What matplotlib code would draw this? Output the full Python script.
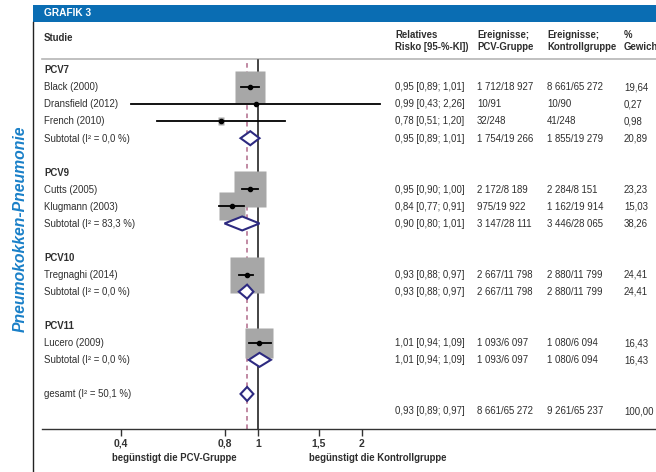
import matplotlib
matplotlib.use("Agg")
import matplotlib.pyplot as plt
import numpy as np
from matplotlib.path import Path
from matplotlib.patches import Polygon, Rectangle

plt.rcParams['font.family'] = ['Liberation Sans Narrow', 'Liberation Sans', 'DejaVu Sans']

# ---------------- data ----------------
groups = ["PCV7", "PCV9", "PCV10", "PCV11"]
group_i2 = ["0,0", "83,3", "0,0", "0,0"]
study_names = [["Black (2000)", "Dransfield (2012)", "French (2010)"],
               ["Cutts (2005)", "Klugmann (2003)"],
               ["Tregnaghi (2014)"],
               ["Lucero (2009)"]]
study_rr = [[0.95, 0.99, 0.78], [0.95, 0.84], [0.93], [1.01]]
study_lo = [[0.89, 0.43, 0.51], [0.90, 0.77], [0.88], [0.94]]
study_hi = [[1.01, 2.26, 1.20], [1.00, 0.91], [0.97], [1.09]]
study_weight = [[19.64, 0.27, 0.98], [23.23, 15.03], [24.41], [16.43]]
study_ev_pcv = [["1 712/18 927", "10/91", "32/248"], ["2 172/8 189", "975/19 922"],
                ["2 667/11 798"], ["1 093/6 097"]]
study_ev_ctl = [["8 661/65 272", "10/90", "41/248"], ["2 284/8 151", "1 162/19 914"],
                ["2 880/11 799"], ["1 080/6 094"]]
sub_rr = [0.95, 0.90, 0.93, 1.01]
sub_lo = [0.89, 0.80, 0.88, 0.94]
sub_hi = [1.01, 1.01, 0.97, 1.09]
sub_weight = [20.89, 38.26, 24.41, 16.43]
sub_ev_pcv = ["1 754/19 266", "3 147/28 111", "2 667/11 798", "1 093/6 097"]
sub_ev_ctl = ["1 855/19 279", "3 446/28 065", "2 880/11 799", "1 080/6 094"]
total_i2 = "50,1"
total_rr, total_lo, total_hi = 0.93, 0.89, 0.97
total_weight = 100.00
total_ev_pcv = "8 661/65 272"
total_ev_ctl = "9 261/65 237"
xticks = [0.4, 0.8, 1, 1.5, 2]
xtick_labels = ["0,4", "0,8", "1", "1,5", "2"]

# ---------------- layout ----------------
W, H = 656, 472
fig = plt.figure(figsize=(W / 100, H / 100), dpi=100)

def fx(px):
    return px / W

def fy(py):
    return 1 - py / H

ov = fig.add_axes([0, 0, 1, 1])
ov.set_xlim(0, W)
ov.set_ylim(H, 0)
ov.axis("off")

AX_L, AX_R, AX_T, AX_B = 42, 656, 59, 429
X1_PX, PX_PER_LN = 258, 150.0
ax = fig.add_axes([fx(AX_L), fy(AX_B), fx(AX_R - AX_L), (AX_B - AX_T) / H])
ax.set_xscale("log")
ax.set_xlim(np.exp((AX_L - X1_PX) / PX_PER_LN), np.exp((AX_R - X1_PX) / PX_PER_LN))
ax.set_ylim(AX_B, AX_T)
ax.patch.set_alpha(0)
for s in ["top", "right", "left"]:
    ax.spines[s].set_visible(False)
ax.spines["bottom"].set_color("#333333")
ax.spines["bottom"].set_linewidth(1.0)
ax.set_yticks([])
ax.set_xticks(xticks)
ax.set_xticklabels(xtick_labels, fontsize=7.5, fontweight="bold", color="#333333")
ax.xaxis.set_minor_locator(matplotlib.ticker.NullLocator())
ax.tick_params(axis="x", length=5, width=1, color="#333333", pad=2)

TXT = "#2e2e2e"
FS = 6.9
COL_STUDY = 44
COL_RR, COL_PCV, COL_CTL, COL_W = 395, 477, 547, 624
ROW0, ROW_DY = 70, 17.05
BASE = 3.3  # baseline offset from row centre (px)

def fmt(v):
    return f"{v:.2f}".replace(".", ",")

def rr_text(r, l, h):
    return f"{fmt(r)} [{fmt(l)}; {fmt(h)}]"

def rowtext(x, y, s, **kw):
    ov.text(x, y + BASE, s, fontsize=FS, color=TXT, va="baseline", ha="left", **kw)

# frame decorations
ov.add_patch(Rectangle((33, 5), W - 33, 17, color="#0a6db3", lw=0))
ov.text(44, 13.5, "GRAFIK 3", color="white", fontsize=7.3, fontweight="bold", va="center", ha="left")
ov.plot([33, 33], [22, H], color="#222222", lw=1.0)
ov.plot([42, W], [59, 59], color="#b5b5b5", lw=1.2)
ov.text(20, 229, "Pneumokokken-Pneumonie", rotation=90, color="#1a80c8", fontsize=11.3,
        fontweight="bold", style="italic", ha="center", va="center",
        family=["Liberation Sans", "DejaVu Sans"])

# header
ov.text(COL_STUDY, 38, "Studie", fontsize=FS, fontweight="bold", color=TXT, va="center")
for cx, lab in [(COL_RR, "Relatives\nRisko [95-%-KI])"), (COL_PCV, "Ereignisse;\nPCV-Gruppe"),
                (COL_CTL, "Ereignisse;\nKontrollgruppe"), (COL_W, "%\nGewichtung")]:
    ov.text(cx, 41, lab, fontsize=FS, fontweight="bold", color=TXT, va="center", linespacing=1.3)

# reference lines
ax.plot([1, 1], [AX_B, AX_T + 1], color="#111111", lw=1.1, zorder=1)
ax.plot([total_rr, total_rr], [AX_B, AX_T + 3], color="#b06a8a", lw=1.1, ls=(0, (3, 2.5)), zorder=1)

box_marker = Path([(-0.91, -1), (0.91, -1), (0.91, 1), (-0.91, 1), (-0.91, -1)],
                  [Path.MOVETO, Path.LINETO, Path.LINETO, Path.LINETO, Path.CLOSEPOLY])
DIA = "#2d2a80"

def diamond(r, l, h, y):
    hh = 7
    ax.add_patch(Polygon([(l, y), (r, y - hh), (h, y), (r, y + hh)], closed=True,
                         facecolor="white", edgecolor=DIA, lw=1.5, zorder=5))

row = 0
for g in range(len(groups)):
    y = ROW0 + ROW_DY * row
    rowtext(COL_STUDY, y, groups[g], fontweight="bold")
    row += 1
    r0 = row
    for i in range(len(study_names[g])):
        y = ROW0 + ROW_DY * row
        r, l, h, w = study_rr[g][i], study_lo[g][i], study_hi[g][i], study_weight[g][i]
        rowtext(COL_STUDY, y, study_names[g][i])
        rowtext(COL_RR, y, rr_text(r, l, h))
        rowtext(COL_PCV, y, study_ev_pcv[g][i])
        rowtext(COL_CTL, y, study_ev_ctl[g][i])
        rowtext(COL_W, y, fmt(w))
        ms = 7.4 * np.sqrt(w) * 0.72
        ax.plot([r], [y], marker=box_marker, markersize=ms, color="#a7a7a7", mec="none", zorder=2)
        row += 1
    for i in range(len(study_names[g])):
        y = ROW0 + ROW_DY * (r0 + i)
        ax.plot([study_lo[g][i], study_hi[g][i]], [y, y], color="black", lw=1.3, zorder=3)
        ax.plot([study_rr[g][i]], [y], "o", color="black", markersize=3, zorder=4)
    y = ROW0 + ROW_DY * row
    rowtext(COL_STUDY, y, f"Subtotal (I² = {group_i2[g]} %)")
    rowtext(COL_RR, y, rr_text(sub_rr[g], sub_lo[g], sub_hi[g]))
    rowtext(COL_PCV, y, sub_ev_pcv[g])
    rowtext(COL_CTL, y, sub_ev_ctl[g])
    rowtext(COL_W, y, fmt(sub_weight[g]))
    diamond(sub_rr[g], sub_lo[g], sub_hi[g], y)
    row += 2

y = ROW0 + ROW_DY * row
rowtext(COL_STUDY, y, f"gesamt (I² = {total_i2} %)")
diamond(total_rr, total_lo, total_hi, y)
y = ROW0 + ROW_DY * (row + 1)
rowtext(COL_RR, y, rr_text(total_rr, total_lo, total_hi))
rowtext(COL_PCV, y, total_ev_pcv)
rowtext(COL_CTL, y, total_ev_ctl)
rowtext(COL_W, y, fmt(total_weight))

ov.text(174, 458, "begünstigt die PCV-Gruppe", fontsize=FS, fontweight="bold", color=TXT, ha="center", va="center")
ov.text(378, 458, "begünstigt die Kontrollgruppe", fontsize=FS, fontweight="bold", color=TXT, ha="center", va="center")

fig.savefig("out.png", dpi=100)
